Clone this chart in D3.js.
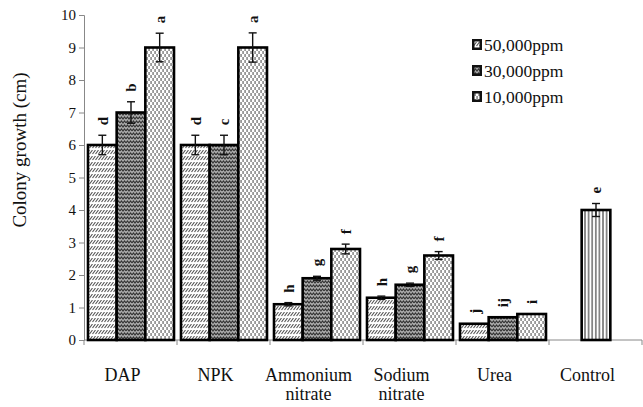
<!DOCTYPE html>
<html><head><meta charset="utf-8">
<script src="https://cdn.jsdelivr.net/npm/d3@7/dist/d3.min.js"></script>
<style>body{margin:0;background:#fff}svg{display:block}svg text{font-family:"Liberation Serif",serif}</style>
</head><body><svg id="c" width="643" height="407"></svg>
<script>
const categories = ["DAP","NPK","Ammonium\nnitrate","Sodium\nnitrate","Urea","Control"];
const series = ["50,000ppm","30,000ppm","10,000ppm"];
const values50 = [6, 6, 1.1, 1.3, 0.5, null];
const values30 = [7, 6, 1.9, 1.7, 0.7, 4.0];
const values10 = [9, 9, 2.8, 2.6, 0.8, null];
const err50 = [0.3, 0.3, 0.05, 0.05, 0, null];
const err30 = [0.33, 0.3, 0.06, 0.05, 0, 0.2];
const err10 = [0.44, 0.45, 0.15, 0.12, 0, null];
const letters50 = ["d","d","h","h","j",null];
const letters30 = ["b","c","g","g","ij","e"];
const letters10 = ["a","a","f","f","i",null];
const yTicks = [0,1,2,3,4,5,6,7,8,9,10];
const yTitle = "Colony growth (cm)";

const svg = d3.select("#c");
const defs = svg.append("defs");

// patterns
const p1 = defs.append("pattern").attr("id","p50").attr("patternUnits","userSpaceOnUse").attr("width",3).attr("height",6);
p1.append("rect").attr("width",3).attr("height",6).attr("fill","#fff");
p1.append("path").attr("d","M-0.5,4 L2.5,0 M2.5,4 L5.5,0").attr("stroke","#555").attr("stroke-width",1.1);
const p2 = defs.append("pattern").attr("id","p30").attr("patternUnits","userSpaceOnUse").attr("width",6).attr("height",4);
p2.append("rect").attr("width",6).attr("height",4).attr("fill","#aaa");
p2.append("path").attr("d","M0,3 L1.5,1 L3,3 L4.5,1 L6,3").attr("stroke","#333").attr("stroke-width",1.1).attr("fill","none");
const p3 = defs.append("pattern").attr("id","p10").attr("patternUnits","userSpaceOnUse").attr("width",4).attr("height",6);
p3.append("rect").attr("width",4).attr("height",6).attr("fill","#fff");
p3.append("rect").attr("x",0.5).attr("y",0).attr("width",1.1).attr("height",3).attr("fill","#555");
p3.append("rect").attr("x",2.5).attr("y",3).attr("width",1.1).attr("height",3).attr("fill","#555");
const p4 = defs.append("pattern").attr("id","pctl").attr("patternUnits","userSpaceOnUse").attr("width",3.6).attr("height",4);
p4.append("rect").attr("width",3.6).attr("height",4).attr("fill","#fff");
p4.append("rect").attr("x",1.3).attr("width",1).attr("height",4).attr("fill","#222");

const fills = ["url(#p50)","url(#p30)","url(#p10)"];

const x0 = d3.scaleBand().domain(categories).range([84, 642]).padding(0);
const x1 = d3.scaleBand().domain(series).range([4, 90]).padding(0);
const y = d3.scaleLinear().domain([0, 10]).range([340, 15]);

// y axis
const ya = svg.append("g").attr("transform","translate(84,0)")
  .call(d3.axisLeft(y).tickValues(yTicks).tickSize(5).tickPadding(3));
ya.attr("font-family", null);
ya.select(".domain").attr("stroke","#888");
ya.selectAll(".tick line").attr("stroke","#888");
ya.selectAll(".tick text").attr("font-size",15).attr("fill","#111");

// x axis line & ticks
svg.append("line").attr("x1",84).attr("x2",642).attr("y1",y(0)).attr("y2",y(0)).attr("stroke","#888");
const bounds = categories.map(c => x0(c)).concat([x0.range()[1]]);
svg.selectAll(".xt").data(bounds).enter().append("line")
  .attr("x1",d=>d).attr("x2",d=>d).attr("y1",y(0)).attr("y2",y(0)+5).attr("stroke","#888");

// bars
const allVals = [values50, values30, values10];
const allErr = [err50, err30, err10];
const allLet = [letters50, letters30, letters10];
const barData = [];
categories.forEach((c, i) => {
  series.forEach((s, j) => {
    const v = allVals[j][i];
    if (v == null) return;
    barData.push({c, s, j, v, e: allErr[j][i], l: allLet[j][i], ctl: c === "Control"});
  });
});
const bx = d => x0(d.c) + x1(d.s);
const bw = x1.bandwidth();
svg.selectAll(".bar").data(barData).enter().append("rect")
  .attr("x", bx).attr("y", d => y(d.v)).attr("width", bw).attr("height", d => y(0) - y(d.v))
  .attr("fill", d => d.ctl ? "url(#pctl)" : fills[d.j])
  .attr("stroke","#000").attr("stroke-width",2.6);

// error bars
const eg = svg.selectAll(".err").data(barData.filter(d => d.e > 0)).enter().append("g").attr("stroke","#111").attr("stroke-width",1.4);
eg.append("line").attr("x1",d=>bx(d)+bw/2).attr("x2",d=>bx(d)+bw/2).attr("y1",d=>y(d.v-d.e)).attr("y2",d=>y(d.v+d.e));
eg.append("line").attr("x1",d=>bx(d)+bw/2-4).attr("x2",d=>bx(d)+bw/2+4).attr("y1",d=>y(d.v+d.e)).attr("y2",d=>y(d.v+d.e));
eg.append("line").attr("x1",d=>bx(d)+bw/2-4).attr("x2",d=>bx(d)+bw/2+4).attr("y1",d=>y(d.v-d.e)).attr("y2",d=>y(d.v-d.e));

// letters
svg.selectAll(".let").data(barData).enter().append("text")
  .attr("transform", d => `translate(${bx(d)+bw/2},${y(d.v+d.e)-10}) rotate(-90)`)
  .attr("dy","0.35em").attr("text-anchor","start")
  .attr("font-weight","bold").attr("font-size",15).attr("fill","#111")
  .text(d => d.l);

// x labels
categories.forEach(c => {
  const lines = c.split("\n");
  const cx = x0(c) + x0.bandwidth()/2 - 8;
  lines.forEach((ln, k) => svg.append("text").attr("x", cx).attr("y", 381 + k * 18.5)
    .attr("text-anchor","middle").attr("font-size",18).attr("fill","#111").text(ln));
});

// y title
svg.append("text").attr("transform","translate(26,150) rotate(-90)").attr("text-anchor","middle")
  .attr("font-size",19).attr("fill","#111").text(yTitle);

// legend
const lg = svg.append("g");
series.forEach((s, j) => {
  const yy = 45 + j * 26;
  lg.append("rect").attr("x",472).attr("y",yy-6).attr("width",10).attr("height",11).attr("fill","#111");
  lg.append("rect").attr("x",474.5).attr("y",yy-3.5).attr("width",5).attr("height",6).attr("fill",fills[j]);
  lg.append("text").attr("x",484).attr("y",yy+6).attr("font-size",17.5).attr("fill","#111").text(s);
});
</script></body></html>
